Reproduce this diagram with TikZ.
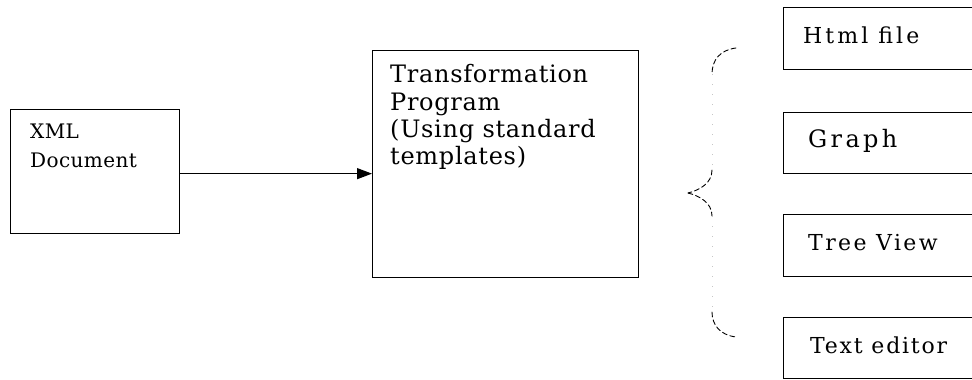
\documentclass[tikz,border=0pt]{standalone}
\usepackage{fontspec}
\setmainfont{DejaVu Serif}
\usetikzlibrary{arrows.meta}
\begin{document}
\begin{tikzpicture}[x=1pt,y=-1pt,
  box/.style={draw,line width=1.3pt,inner sep=0pt},
  txt/.style={inner sep=0pt,anchor=base west,align=left},
  conn/.style={line width=1.2pt,-{Triangle[length=15pt,width=11pt]}},
  bracecurve/.style={line width=0.9pt,dash pattern=on 5pt off 3pt,line cap=round},
  bracestraight/.style={line width=0.6pt,gray!45,dash pattern=on 1pt off 9pt}]
\clip (0,0) rectangle (972,380);
\useasboundingbox (0,0) rectangle (972,380);
% boxes
\node[box,minimum width=169pt,minimum height=124pt,anchor=north west] (xml) at (10,109) {};
\node[box,minimum width=266pt,minimum height=227pt,anchor=north west] (trans) at (372,50) {};
\node[box,minimum width=200pt,minimum height=62pt,anchor=north west] (html) at (783,7) {};
\node[box,minimum width=200pt,minimum height=61pt,anchor=north west] (graph) at (783,112) {};
\node[box,minimum width=200pt,minimum height=62pt,anchor=north west] (tree) at (783,214) {};
\node[box,minimum width=200pt,minimum height=61pt,anchor=north west] (editor) at (783,317) {};
% texts
\node[txt,font=\fontsize{20}{29}\addfontfeature{LetterSpace=2}] (xmlt1) at (30,138) {XML};
\node[txt,font=\fontsize{20}{29}\addfontfeature{LetterSpace=2}] (xmlt2) at (30,167) {Document};
\node[txt,font=\fontsize{24}{27}\addfontfeature{LetterSpace=3}] (tt1) at (390,82) {Transformation};
\node[txt,font=\fontsize{24}{27}\addfontfeature{LetterSpace=3}] (tt2) at (390,110) {Program};
\node[txt,font=\fontsize{24}{27}\addfontfeature{LetterSpace=3}] (tt3) at (390,137) {(Using standard};
\node[txt,font=\fontsize{24}{27}\addfontfeature{LetterSpace=3}] (tt4) at (390,164) {templates)};
\node[txt,font=\fontsize{22}{24}\addfontfeature{LetterSpace=14}] (ht) at (803,43) {Html file};
\node[txt,font=\fontsize{24}{24}\addfontfeature{LetterSpace=14}] (gt) at (808,147) {Graph};
\node[txt,font=\fontsize{22}{24}\addfontfeature{LetterSpace=11}] (trt) at (808,250) {Tree View};
\node[txt,font=\fontsize{22}{24}\addfontfeature{LetterSpace=8}] (et) at (810,353) {Text editor};
% connector
\coordinate (tip) at (xml.east -| trans.west);
\draw[conn] ([yshift=-2pt]xml.east) -- ([yshift=-2pt]tip);
% brace
\coordinate (b1) at (736,48);
\coordinate (b2) at (712,74);
\coordinate (b3) at (712,170);
\coordinate (b4) at (688,193);
\coordinate (b5) at (712,216);
\coordinate (b6) at (712,312);
\coordinate (b7) at (736,337);
\draw[bracecurve] (b1) .. controls (720,50) and (712,60) .. (b2);
\draw[bracestraight] (b2) -- (b3);
\draw[bracecurve] (b3) .. controls (712,183) and (700,190) .. (b4);
\draw[bracecurve] (b4) .. controls (700,196) and (712,203) .. (b5);
\draw[bracestraight] (b5) -- (b6);
\draw[bracecurve] (b6) .. controls (712,325) and (720,335) .. (b7);
\end{tikzpicture}
\end{document}
